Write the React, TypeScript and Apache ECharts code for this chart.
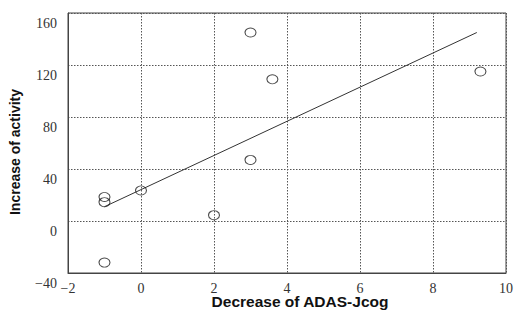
import React, { useEffect, useRef } from "react";
import * as echarts from "echarts";

const pointX = [-1, -1, -1, 0, 2, 3, 3, 3.6, 9.3];
const pointY = [18.5, 14.5, -32, 23.5, 4.5, 47, 145, 109, 115];
const lineX = [-1, 9.2];
const lineY = [11, 145];
const xTicks = [-2, 0, 2, 4, 6, 8, 10];
const yTicks = [-40, 0, 40, 80, 120, 160];
const xTitle = "Decrease of ADAS-Jcog";
const yTitle = "Increase of activity";

export default function App() {
  const ref = useRef<HTMLDivElement>(null);
  useEffect(() => {
    if (!ref.current) return;
    const chart = echarts.init(ref.current, undefined, { renderer: "svg" });
    const serif = "'Liberation Serif', 'DejaVu Serif', serif";
    const sans = "'Liberation Sans', Arial, sans-serif";
    const fmt = (v: number) => String(v).replace("-", "\u2212");
    chart.setOption({
      animation: false,
      backgroundColor: "#ffffff",
      grid: {
        left: 68,
        right: 8,
        top: 13,
        bottom: 38,
        containLabel: false,
        outerBoundsMode: "none",
        show: true,
        borderColor: "#444",
        borderWidth: 1,
        backgroundColor: "transparent",
      },
      xAxis: {
        type: "value",
        min: xTicks[0],
        max: xTicks[xTicks.length - 1],
        interval: 2,
        axisLine: { show: true, onZero: false, lineStyle: { color: "#444", width: 1 } },
        axisTick: { show: false },
        axisLabel: {
          margin: 8,
          color: "#333",
          fontFamily: serif,
          fontSize: 14,
          formatter: fmt,
          showMinLabel: true,
          showMaxLabel: true,
        },
        splitLine: { show: true, lineStyle: { color: "#555", type: [1.5, 1.5], width: 1 } },
        name: xTitle,
        nameLocation: "middle",
        nameMoveOverlap: false,
        nameGap: 20,
        nameTextStyle: {
          fontFamily: sans,
          fontWeight: "bold",
          fontSize: 15.5,
          color: "#111",
          padding: [0, 0, 0, 26],
        },
      },
      yAxis: {
        type: "value",
        min: yTicks[0],
        max: yTicks[yTicks.length - 1],
        interval: 40,
        axisLine: { show: true, onZero: false, lineStyle: { color: "#444", width: 1 } },
        axisTick: { show: false },
        axisLabel: {
          margin: 11,
          color: "#333",
          fontFamily: serif,
          fontSize: 14,
          verticalAlign: "top",
          lineHeight: 14,
          padding: [3, 0, 0, 0],
          formatter: fmt,
          showMinLabel: true,
          showMaxLabel: true,
        },
        splitLine: { show: true, lineStyle: { color: "#555", type: [1.5, 1.5], width: 1 } },
        name: yTitle,
        nameLocation: "middle",
        nameMoveOverlap: false,
        nameRotate: 90,
        nameGap: 46,
        nameTextStyle: {
          fontFamily: sans,
          fontWeight: "bold",
          fontSize: 14,
          color: "#111",
          padding: [0, 18, 0, 0],
        },
      },
      series: [
        {
          type: "line",
          data: lineX.map((x, i) => [x, lineY[i]]),
          showSymbol: false,
          symbol: "none",
          lineStyle: { color: "#333", width: 1 },
          z: 3,
        },
        {
          type: "scatter",
          data: pointX.map((x, i) => [x, pointY[i]]),
          symbol: "circle",
          symbolSize: [11, 9],
          itemStyle: { color: "rgba(255,255,255,0)", borderColor: "#222", borderWidth: 1 },
          z: 4,
        },
      ],
    });
    return () => chart.dispose();
  }, []);
  return <div ref={ref} style={{ width: 514, height: 311, position: "absolute", left: 0, top: 0 }} />;
}
